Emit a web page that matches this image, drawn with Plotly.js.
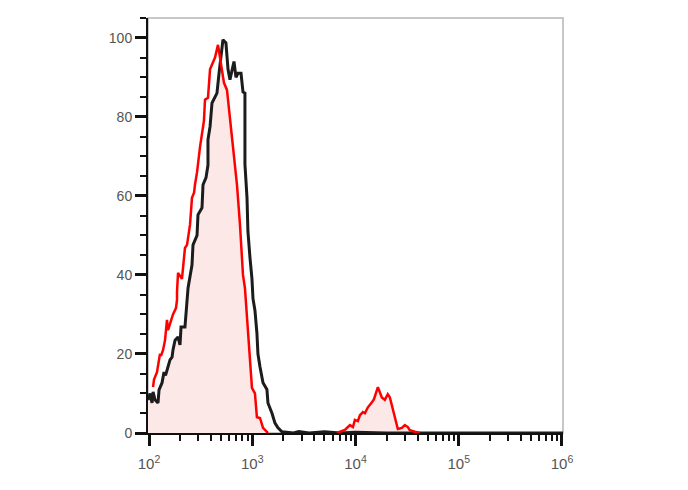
<!DOCTYPE html>
<html>
<head>
<meta charset="utf-8">
<script src="https://cdn.plot.ly/plotly-3.0.1.min.js"></script>
<style>html,body{margin:0;padding:0;background:#fff;}#chart{width:688px;height:490px;}</style>
</head>
<body>
<div id="chart"></div>
<script>
// Positions on the log axis are given in decades (log10 of fluorescence).
const blackDecades = [1.981,1.990,2.010,2.029,2.039,2.058,2.087,2.097,2.126,2.145,2.160,2.184,2.203,2.223,2.232,2.252,2.281,2.300,2.310,2.348,2.368,
  2.378,2.416,2.426,2.465,2.474,2.513,2.523,2.552,2.571,
  2.571,2.591,2.610,2.658,2.678,2.697,2.716,2.745,2.765,2.784,2.803,2.823,2.842,2.862,2.891,2.910,2.929,
  2.929,2.949,2.958,2.978,2.997,3.007,3.026,3.045,3.055,3.075,3.104,3.142,3.152,3.191,3.220,3.249,3.288,
  3.40,3.45,3.55,3.70,3.85,4.00,4.30,4.60,5.00,5.50,6.01];
const blackValues = [9.5,8.4,10.0,7.6,10.4,8.4,7.6,10.9,12.7,15.4,14.6,17.2,18.5,19.2,21.0,23.5,24.3,22.3,26.8,26.8,33.7,
  36.7,42.5,47.6,50.0,55.2,57.0,62.8,64.6,67.8,
  74.2,77.5,83.5,86.0,91.0,95.0,99.5,98.7,92.0,89.4,92.0,94.0,90.0,91.0,91.0,86.3,86.0,
  68.0,59.5,51.0,44.3,39.0,34.0,31.0,25.3,20.0,16.7,12.7,11.0,7.6,5.0,2.5,1.3,0.3,
  0.0,0.4,0.0,0.3,0.0,0.2,0.0,0.0,0.0,0.0,0.0];

const redDecades = [2.039,2.048,2.077,2.087,2.106,2.116,2.136,2.155,2.174,2.184,2.203,2.232,2.261,2.271,
  2.271,2.281,2.319,2.348,2.368,2.397,2.416,2.436,2.445,2.465,
  2.494,2.532,2.542,2.571,2.591,2.620,2.639,2.668,2.687,2.707,2.726,2.755,2.784,2.803,2.833,
  2.852,2.881,2.910,2.929,2.949,2.978,2.997,3.026,3.045,3.075,3.104,3.142,3.152];
const redValues = [11.6,13.5,15.4,16.7,20.0,19.5,21.0,23.5,28.6,26.0,27.8,30.0,31.6,33.7,
  35.7,40.5,39.0,46.8,47.6,52.7,59.5,60.8,62.8,66.0,
  72.4,79.0,84.3,84.8,92.0,94.0,95.0,98.2,95.0,92.0,88.6,86.8,80.0,74.0,68.4,
  62.8,52.7,40.0,36.7,28.6,16.7,11.4,10.0,4.0,3.8,1.3,0.3,0.0];

const redPeak2Decades = [3.820,3.897,3.946,3.975,3.994,4.023,4.043,4.072,4.091,4.120,4.159,4.178,4.217,4.236,4.255,
  4.284,4.313,4.333,4.362,4.381,4.410,4.449,4.478,4.507,4.526,4.575,4.623];
const redPeak2Values = [0.0,0.8,2.0,1.5,3.3,3.0,4.5,5.3,5.0,6.5,7.8,8.5,11.6,10.5,9.0,
  8.4,9.8,9.0,6.0,4.0,1.0,1.3,2.0,1.5,0.7,0.3,0.0];

// The shaded area follows the control (black) left of where the curves cross, the sample (red) right of it.
const crossDecade = 2.69;

const tickDecades = [2,3,4,5,6];
const tickLabels = ['10<sup>2</sup>','10<sup>3</sup>','10<sup>4</sup>','10<sup>5</sup>','10<sup>6</sup>'];

const toX = d => Math.pow(10, d);

const fillX = [], fillY = [];
blackDecades.forEach((d,i)=>{ if (d < crossDecade) { fillX.push(toX(d)); fillY.push(blackValues[i]); } });
redDecades.forEach((d,i)=>{ if (d >= crossDecade) { fillX.push(toX(d)); fillY.push(redValues[i]); } });
redPeak2Decades.forEach((d,i)=>{ fillX.push(toX(d)); fillY.push(redPeak2Values[i]); });

const redX = redDecades.map(toX).concat([null], redPeak2Decades.map(toX));
const redY = redValues.concat([null], redPeak2Values);

const traces = [
  {x: fillX, y: fillY, type:'scatter', mode:'lines', fill:'tozeroy', fillcolor:'rgb(253,232,232)',
   line:{width:0, color:'rgba(0,0,0,0)'}, hoverinfo:'skip', showlegend:false},
  {x: blackDecades.map(toX), y: blackValues, type:'scatter', mode:'lines',
   line:{color:'#1c1c1c', width:3}, showlegend:false},
  {x: redX, y: redY, type:'scatter', mode:'lines', connectgaps:false,
   line:{color:'#ff0000', width:2.5}, showlegend:false}
];

const fontFamily = '"Liberation Sans", Arial, sans-serif';

const layout = {
  width:688, height:490,
  margin:{l:148, r:125, t:18, b:57, pad:0},
  paper_bgcolor:'#fff', plot_bgcolor:'#fff',
  showlegend:false,
  xaxis:{type:'log', range:[1.99, 6.01], tickmode:'array', tickvals: tickDecades.map(toX), ticktext: tickLabels,
    ticks:'outside', ticklen:11, tickwidth:3, tickcolor:'#111', ticklabelstandoff:5,
    showline:true, linecolor:'#111', linewidth:2, showgrid:false, zeroline:false,
    tickfont:{family:fontFamily, size:15, color:'#555'},
    minor:{ticks:'outside', ticklen:6, tickwidth:2, tickcolor:'#111', dtick:'D1', showgrid:false}},
  yaxis:{range:[0,105], tick0:0, dtick:20, ticks:'outside', ticklen:11, tickwidth:3, tickcolor:'#111',
    showline:true, linecolor:'#111', linewidth:2, showgrid:false, zeroline:false,
    tickfont:{family:fontFamily, size:14, color:'#555'},
    minor:{ticks:'outside', ticklen:6, tickwidth:2, tickcolor:'#111', dtick:5, showgrid:false}},
  shapes:[{type:'rect', xref:'paper', yref:'paper', x0:0, x1:1, y0:0, y1:1,
    line:{color:'#b5b5b5', width:1.5}, layer:'below'}]
};

Plotly.newPlot('chart', traces, layout, {displayModeBar:false, staticPlot:true});
</script>
</body>
</html>
